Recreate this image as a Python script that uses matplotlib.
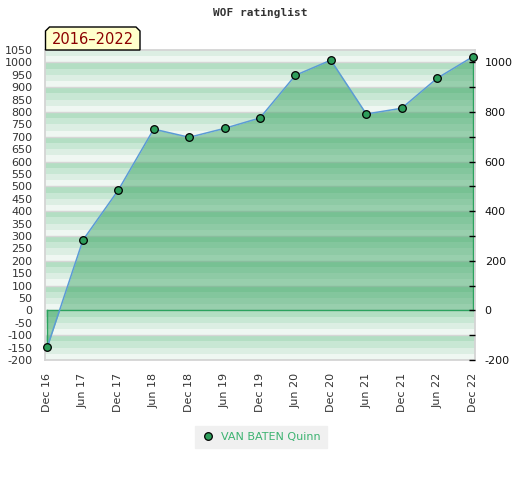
import matplotlib
matplotlib.use("Agg")
import matplotlib.pyplot as plt
from matplotlib.patches import Polygon
from matplotlib.lines import Line2D

# data
periods = ["Dec 16", "Jun 17", "Dec 17", "Jun 18", "Dec 18", "Jun 19", "Dec 19",
           "Jun 20", "Dec 20", "Jun 21", "Dec 21", "Jun 22", "Dec 22"]
ratings = [-146, 283, 485, 731, 698, 734, 776, 948, 1009, 792, 815, 936, 1022]
left_ticks = list(range(-200, 1051, 50))
right_ticks = list(range(-200, 1001, 200))
player = "VAN BATEN Quinn"
badge_text = "2016\u20132022"
title = "WOF ratinglist"

W, H = 520, 480
fig = plt.figure(figsize=(W / 100, H / 100), dpi=100)
ax = fig.add_axes([45 / W, 1 - 360 / H, (475 - 45) / W, (360 - 50) / H])

ymin, ymax = -200, 1050
x = list(range(len(periods)))

# striped background, 4 shades repeating every 100 points
band_cols = {0: "#eff7f2", 25: "#dceee3", 50: "#c8e7d4", 75: "#b3dec3"}
for lo in range(ymin, ymax, 25):
    ax.axhspan(lo, lo + 25, color=band_cols[lo % 100], lw=0, zorder=0)
for v in range(-100, ymax, 100):
    ax.axhline(v, color="#d6d6d6", lw=1, zorder=0.5)

# area under the rating curve
ax.fill_between(x, ratings, 0, color="#2f9f5a", alpha=0.45, lw=0, zorder=1)
green = "#2ca25f"
ax.plot([x[0], x[0]], [ratings[0], 0], color=green, lw=1, zorder=2)
ax.plot([x[0], x[-1]], [0, 0], color=green, lw=1, zorder=2)
ax.plot([x[-1], x[-1]], [0, ratings[-1]], color=green, lw=1, zorder=2)
ax.plot(x, ratings, color="#5b9bd5", lw=1.1, zorder=3)
ax.plot(x, ratings, ls="none", marker="o", ms=5.5, mfc="#2e9e5b",
        mec="black", mew=0.9, zorder=4, clip_on=False)

ax.set_xlim(-0.07, len(periods) - 1 + 0.07)
ax.set_ylim(ymin, ymax)
ax.set_yticks(left_ticks)
ax.set_yticklabels([str(t) for t in left_ticks])
ax.set_xticks(x)
ax.set_xticklabels(periods, rotation=90, va="top", ha="center")
ax.tick_params(axis="both", length=0, labelsize=8, labelcolor="#333333")
ax.tick_params(axis="y", pad=9)
ax.tick_params(axis="x", pad=9)
for s in ax.spines.values():
    s.set_color("#d4d4d4")
    s.set_linewidth(1.3)

ax2 = ax.twinx()
ax2.set_ylim(ymin, ymax)
ax2.set_yticks(right_ticks)
ax2.set_yticklabels([str(t) for t in right_ticks])
ax2.set_yticks(list(range(-100, 1001, 200)), minor=True)
ax2.tick_params(axis="y", which="both", direction="in", length=4,
                width=1, color="black", labelsize=8, labelcolor="#111111", pad=7)
for s in ax2.spines.values():
    s.set_visible(False)

# title
fig.text(0.5, 1 - 13 / H, title, ha="center", va="center", fontsize=8,
         family="DejaVu Sans Mono", weight="bold", color="#333333")

# badge with chamfered top corners
bx0, bx1, by0, by1, c = 45.5, 140, 50, 27, 4
pts = [(bx0, by0), (bx0, by1 + c), (bx0 + c, by1), (bx1 - c, by1),
       (bx1, by1 + c), (bx1, by0)]
pts = [(px / W, 1 - py / H) for px, py in pts]
fig.patches.append(Polygon(pts, closed=True, transform=fig.transFigure,
                           facecolor="#ffffcc", edgecolor="black", lw=1, zorder=5))
fig.text((bx0 + bx1) / 2 / W, 1 - 40 / H, badge_text, ha="center", va="center",
         fontsize=10.5, color="#8b0000", zorder=6)

# legend
handle = Line2D([], [], ls="none", marker="o", ms=5.5, mfc="#2e9e5b", mec="black", mew=0.9)
leg = fig.legend([handle], [player], loc="center", bbox_to_anchor=(261 / W, 1 - 437 / H),
                 frameon=True, fancybox=False, facecolor="#f0f0f0", edgecolor="#f0f0f0",
                 fontsize=8, handlelength=1.2, handletextpad=0.6, borderpad=0.55)
leg.get_frame().set_alpha(1)
for t in leg.get_texts():
    t.set_color("#3cb371")

fig.savefig("out.png", dpi=100)
